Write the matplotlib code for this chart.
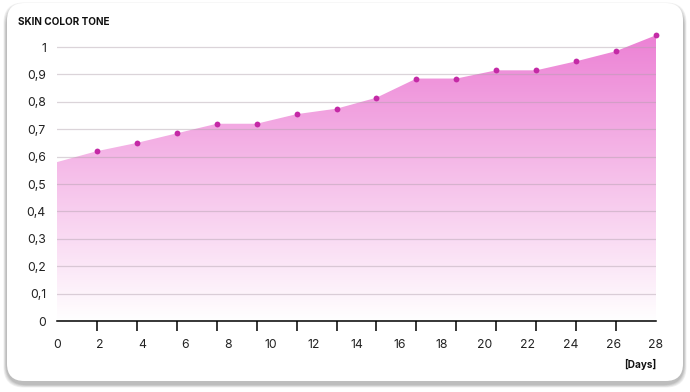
import numpy as np
import matplotlib
matplotlib.use("Agg")
import matplotlib.pyplot as plt
from matplotlib.patches import FancyBboxPatch, Polygon
from matplotlib.colors import LinearSegmentedColormap
from matplotlib.ticker import FixedLocator

plt.rcParams['font.family'] = ['Inter', 'DejaVu Sans']

# ---- data ----
title = "SKIN COLOR TONE"
x_label = "[Days]"
days = [0, 1.87, 3.73, 5.6, 7.47, 9.33, 11.2, 13.07, 14.93, 16.8, 18.67, 20.53, 22.4, 24.27, 26.13, 28]
tone = [0.58, 0.62, 0.65, 0.685, 0.72, 0.72, 0.755, 0.775, 0.815, 0.885, 0.885, 0.915, 0.915, 0.948, 0.985, 1.043]
x_tick_labels = [0, 2, 4, 6, 8, 10, 12, 14, 16, 18, 20, 22, 24, 26, 28]
y_ticks = [0, 0.1, 0.2, 0.3, 0.4, 0.5, 0.6, 0.7, 0.8, 0.9, 1.0]

W, H = 690, 392
fig = plt.figure(figsize=(W / 100, H / 100), dpi=100)
fig.patch.set_facecolor('white')

def fx(px): return px / W
def fy(py): return 1 - py / H

# ---- card with soft shadow ----
card_l, card_r, card_t, card_b = 7, 683, 3, 381
for i, a in enumerate([0.05, 0.05, 0.05, 0.06, 0.07]):
    g = 6 - i
    sh = FancyBboxPatch((fx(card_l - g * 0.6), fy(card_b + 3 + g * 0.6)),
                        fx(card_r - card_l + g * 1.2), (card_b - card_t + g * 1.2) / H,
                        boxstyle="round,pad=0,rounding_size=0.03",
                        transform=fig.transFigure, facecolor='black', alpha=a,
                        edgecolor='none', zorder=-3, mutation_aspect=W / H)
    fig.patches.append(sh)
card = FancyBboxPatch((fx(card_l), fy(card_b)), fx(card_r - card_l), (card_b - card_t) / H,
                      boxstyle="round,pad=0,rounding_size=0.025",
                      transform=fig.transFigure, facecolor='white', edgecolor='none',
                      zorder=-2, mutation_aspect=W / H)
fig.patches.append(card)

# ---- axes ----
ax_l, ax_r, ax_b, ax_t = 57, 656, 321, 30.6
ax = fig.add_axes([fx(ax_l), fy(ax_b), fx(ax_r - ax_l), (ax_b - ax_t) / H])
ax.set_zorder(1)
ax.set_facecolor('none')
ymax = 1.06
ax.set_xlim(0, 28)
ax.set_ylim(0, ymax)

# gradient fill
cmap = LinearSegmentedColormap.from_list('pk', [(1, 1, 1), (236 / 255, 127 / 255, 212 / 255)])
grad = np.linspace(0, 1, 256).reshape(-1, 1)
im = ax.imshow(grad, extent=[0, 28, 0, ymax], origin='lower', aspect='auto',
               cmap=cmap, vmin=0, vmax=1, zorder=1)
poly_pts = [(days[0], 0)] + list(zip(days, tone)) + [(days[-1], 0)]
poly = Polygon(poly_pts, closed=True, transform=ax.transData, facecolor='none', edgecolor='none')
ax.add_patch(poly)
im.set_clip_path(poly)

# grid
for v in y_ticks[1:]:
    ax.axhline(v, color='#b0a0ac', lw=0.9, alpha=0.45, zorder=2)

# markers
ax.plot(days[1:], tone[1:], 'o', color='#c42aa6', ms=4.2, mec='none', zorder=4, clip_on=False)

# spines
for s in ['top', 'right', 'left']:
    ax.spines[s].set_visible(False)
ax.spines['bottom'].set_color('black')
ax.spines['bottom'].set_linewidth(1.1)
ax.spines['bottom'].set_zorder(5)

# y ticks
ax.set_yticks(y_ticks)
ax.set_yticklabels([('%g' % v).replace('.', ',') for v in y_ticks])
ax.tick_params(axis='y', length=0, pad=8, labelsize=8.8, labelcolor='#222222')

# x ticks: marks at data points, labels at even days
ax.xaxis.set_minor_locator(FixedLocator(days))
ax.set_xticks(x_tick_labels)
ax.set_xticklabels([str(v) for v in x_tick_labels])
ax.tick_params(axis='x', which='major', length=0, pad=13, labelsize=8.8, labelcolor='#222222')
ax.tick_params(axis='x', which='minor', length=7, width=1.1, color='black', direction='out')

fig.text(fx(18), fy(22), title, fontsize=7.2, fontweight='bold', color='#111111',
         ha='left', va='center')
fig.text(fx(656), fy(364), x_label, fontsize=7.2, fontweight='bold', color='#111111',
         ha='right', va='center')

fig.savefig('out.png', dpi=100, facecolor='white')
